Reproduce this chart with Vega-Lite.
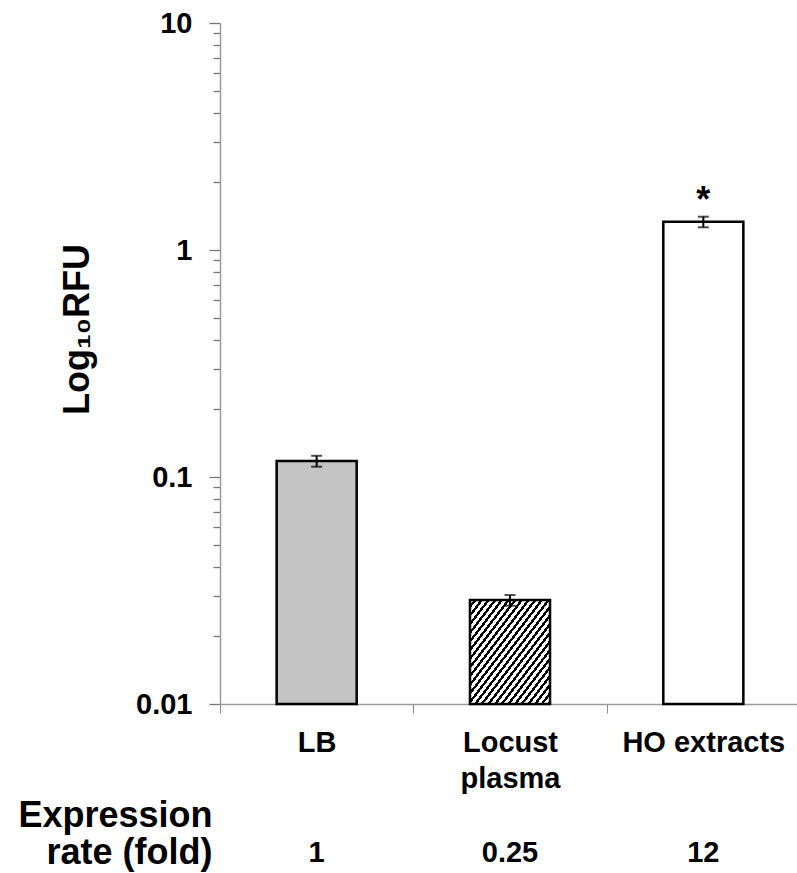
{
  "$schema": "https://vega.github.io/schema/vega-lite/v6.json",
  "width": 580,
  "height": 681,
  "autosize": "none",
  "padding": {"left": 220, "top": 23, "right": 0, "bottom": 169},
  "background": "white",
  "config": {
    "view": {"stroke": null},
    "font": "Liberation Sans",
    "axisY": {
      "titleFont": "Liberation Sans",
      "titleFontSize": 36,
      "titleFontWeight": "bold",
      "titleColor": "black",
      "titleBaseline": "alphabetic",
      "titleX": -132,
      "titleY": 306,
      "grid": false,
      "labelFont": "Liberation Sans",
      "labelFontSize": 29,
      "labelFontWeight": "bold",
      "labelColor": "black",
      "labelOverlap": false,
      "labelBound": false,
      "tickColor": "#777777",
      "tickWidth": 1.3,
      "domainColor": "#9a9a9a",
      "domainWidth": 1.5
    },
    "axisX": {
      "labelAngle": 0,
      "labelFont": "Liberation Sans",
      "labelFontSize": 29,
      "labelFontWeight": "bold",
      "labelColor": "black",
      "labelBaseline": "alphabetic",
      "labelLineHeight": 36,
      "labelOverlap": false,
      "labelBound": false,
      "labelLimit": 0,
      "titleFont": "Liberation Sans",
      "titleFontSize": 36,
      "titleFontWeight": "bold",
      "titleColor": "black"
    }
  },
  "data": {
    "values": [
      {"cat": "LB", "rfu": 0.1176, "lo": 0.111, "hi": 0.124, "sig": "", "fold": "1"},
      {"cat": "Locust plasma", "rfu": 0.0287, "lo": 0.0271, "hi": 0.0302, "sig": "", "fold": "0.25"},
      {"cat": "HO extracts", "rfu": 1.332, "lo": 1.259, "hi": 1.402, "sig": "*", "fold": "12"}
    ]
  },
  "resolve": {"scale": {"x": "independent"}, "axis": {"x": "independent"}},
  "layer": [
    {
      "mark": {"type": "bar", "stroke": "black", "strokeWidth": 2.5, "width": {"band": 0.414}},
      "encoding": {
        "x": {
          "field": "cat",
          "type": "nominal",
          "sort": null,
          "scale": {"paddingInner": 0, "paddingOuter": 0},
          "axis": {
            "orient": "bottom",
            "title": null,
            "labelPadding": 38,
            "labelExpr": "datum.value === 'Locust plasma' ? ['Locust', 'plasma'] : datum.value",
            "tickBand": "extent",
            "tickSize": 9,
            "tickColor": "#8a8a8a",
            "tickWidth": 1,
            "domainColor": "#9a9a9a",
            "domainWidth": 1.5
          }
        },
        "y": {
          "field": "rfu",
          "type": "quantitative",
          "title": "Log₁₀RFU",
          "scale": {"type": "log", "domain": [0.01, 10], "nice": false},
          "axis": {
            "values": [0.01, 0.02, 0.03, 0.04, 0.05, 0.06, 0.07, 0.08, 0.09, 0.1, 0.2, 0.3, 0.4, 0.5, 0.6, 0.7, 0.8, 0.9, 1, 2, 3, 4, 5, 6, 7, 8, 9, 10],
            "labelExpr": "datum.value === 10 ? '10' : datum.value === 1 ? '1' : datum.value === 0.1 ? '0.1' : datum.value === 0.01 ? '0.01' : ''",
            "tickSize": {"condition": {"test": "datum.value === 0.01 || datum.value === 0.1 || datum.value === 1 || datum.value === 10", "value": 11}, "value": 7},
            "labelPadding": 17
          }
        },
        "y2": {"datum": 0.01},
        "fill": {
          "condition": [
            {"test": "datum.cat === 'LB'", "value": "#c4c4c4"},
            {"test": "datum.cat === 'Locust plasma'", "value": {
              "gradient": "linear", "x1": 0, "y1": 0, "x2": 1, "y2": 1,
              "stops": [
                {"offset": 0, "color": "white"}, {"offset": 0.0229, "color": "white"}, {"offset": 0.0229, "color": "black"}, {"offset": 0.0417, "color": "black"},
                {"offset": 0.0417, "color": "white"}, {"offset": 0.0646, "color": "white"}, {"offset": 0.0646, "color": "black"}, {"offset": 0.0833, "color": "black"},
                {"offset": 0.0833, "color": "white"}, {"offset": 0.1063, "color": "white"}, {"offset": 0.1063, "color": "black"}, {"offset": 0.125, "color": "black"},
                {"offset": 0.125, "color": "white"}, {"offset": 0.1479, "color": "white"}, {"offset": 0.1479, "color": "black"}, {"offset": 0.1667, "color": "black"},
                {"offset": 0.1667, "color": "white"}, {"offset": 0.1896, "color": "white"}, {"offset": 0.1896, "color": "black"}, {"offset": 0.2083, "color": "black"},
                {"offset": 0.2083, "color": "white"}, {"offset": 0.2313, "color": "white"}, {"offset": 0.2313, "color": "black"}, {"offset": 0.25, "color": "black"},
                {"offset": 0.25, "color": "white"}, {"offset": 0.2729, "color": "white"}, {"offset": 0.2729, "color": "black"}, {"offset": 0.2917, "color": "black"},
                {"offset": 0.2917, "color": "white"}, {"offset": 0.3146, "color": "white"}, {"offset": 0.3146, "color": "black"}, {"offset": 0.3333, "color": "black"},
                {"offset": 0.3333, "color": "white"}, {"offset": 0.3563, "color": "white"}, {"offset": 0.3563, "color": "black"}, {"offset": 0.375, "color": "black"},
                {"offset": 0.375, "color": "white"}, {"offset": 0.3979, "color": "white"}, {"offset": 0.3979, "color": "black"}, {"offset": 0.4167, "color": "black"},
                {"offset": 0.4167, "color": "white"}, {"offset": 0.4396, "color": "white"}, {"offset": 0.4396, "color": "black"}, {"offset": 0.4583, "color": "black"},
                {"offset": 0.4583, "color": "white"}, {"offset": 0.4813, "color": "white"}, {"offset": 0.4813, "color": "black"}, {"offset": 0.5, "color": "black"},
                {"offset": 0.5, "color": "white"}, {"offset": 0.5229, "color": "white"}, {"offset": 0.5229, "color": "black"}, {"offset": 0.5417, "color": "black"},
                {"offset": 0.5417, "color": "white"}, {"offset": 0.5646, "color": "white"}, {"offset": 0.5646, "color": "black"}, {"offset": 0.5833, "color": "black"},
                {"offset": 0.5833, "color": "white"}, {"offset": 0.6063, "color": "white"}, {"offset": 0.6063, "color": "black"}, {"offset": 0.625, "color": "black"},
                {"offset": 0.625, "color": "white"}, {"offset": 0.6479, "color": "white"}, {"offset": 0.6479, "color": "black"}, {"offset": 0.6667, "color": "black"},
                {"offset": 0.6667, "color": "white"}, {"offset": 0.6896, "color": "white"}, {"offset": 0.6896, "color": "black"}, {"offset": 0.7083, "color": "black"},
                {"offset": 0.7083, "color": "white"}, {"offset": 0.7313, "color": "white"}, {"offset": 0.7313, "color": "black"}, {"offset": 0.75, "color": "black"},
                {"offset": 0.75, "color": "white"}, {"offset": 0.7729, "color": "white"}, {"offset": 0.7729, "color": "black"}, {"offset": 0.7917, "color": "black"},
                {"offset": 0.7917, "color": "white"}, {"offset": 0.8146, "color": "white"}, {"offset": 0.8146, "color": "black"}, {"offset": 0.8333, "color": "black"},
                {"offset": 0.8333, "color": "white"}, {"offset": 0.8563, "color": "white"}, {"offset": 0.8563, "color": "black"}, {"offset": 0.875, "color": "black"},
                {"offset": 0.875, "color": "white"}, {"offset": 0.8979, "color": "white"}, {"offset": 0.8979, "color": "black"}, {"offset": 0.9167, "color": "black"},
                {"offset": 0.9167, "color": "white"}, {"offset": 0.9396, "color": "white"}, {"offset": 0.9396, "color": "black"}, {"offset": 0.9583, "color": "black"},
                {"offset": 0.9583, "color": "white"}, {"offset": 0.9813, "color": "white"}, {"offset": 0.9813, "color": "black"}, {"offset": 1, "color": "black"}
              ]
            }}
          ],
          "value": "white"
        }
      }
    },
    {
      "mark": {
        "type": "errorbar",
        "color": "black",
        "ticks": {"size": 11, "thickness": 2, "color": "black"},
        "rule": {"strokeWidth": 2, "color": "black"}
      },
      "encoding": {
        "x": {
          "field": "fold",
          "type": "nominal",
          "sort": null,
          "scale": {"paddingInner": 0, "paddingOuter": 0},
          "axis": {
            "orient": "bottom",
            "offset": 0,
            "title": ["Expression", "rate (fold)"],
            "titleAlign": "right",
            "titleAnchor": "start",
            "titleBaseline": "alphabetic",
            "titleLineHeight": 37,
            "titleX": -8,
            "titleY": 122,
            "domain": false,
            "ticks": false,
            "tickSize": 0,
            "labelPadding": 157
          }
        },
        "y": {"field": "lo", "type": "quantitative", "title": "Log₁₀RFU"},
        "y2": {"field": "hi"}
      }
    },
    {
      "transform": [{"filter": "datum.sig !== ''"}],
      "mark": {"type": "text", "font": "Liberation Sans", "fontSize": 36, "fontWeight": "bold", "baseline": "alphabetic", "align": "center", "dy": -5, "color": "black"},
      "encoding": {
        "x": {
          "field": "cat",
          "type": "nominal",
          "sort": null,
          "scale": {"paddingInner": 0, "paddingOuter": 0, "domain": ["LB", "Locust plasma", "HO extracts"]},
          "axis": null
        },
        "y": {"field": "hi", "type": "quantitative", "title": "Log₁₀RFU"},
        "text": {"field": "sig"}
      }
    }
  ]
}
